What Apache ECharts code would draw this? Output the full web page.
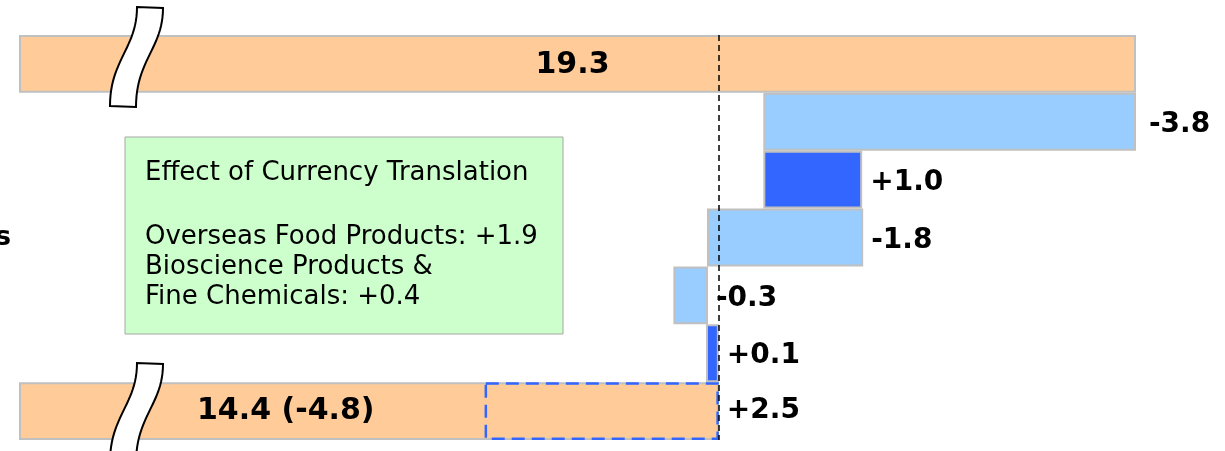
<!DOCTYPE html>
<html>
<head>
<meta charset="utf-8">
<script src="https://cdn.jsdelivr.net/npm/echarts@6/dist/echarts.min.js"></script>
<style>
  html, body { margin: 0; padding: 0; background: #fff; }
  #main { width: 1225px; height: 451px; }
</style>
</head>
<body>
<div id="main"></div>
<script>
// rows top to bottom; only the 4th row label peeks in at the left edge
const categories = ['', ' ', '  ', 'Food Products', '   ', '    ', '     '];
// bar extents on the (broken) value axis
const barLow  = [8, 15.53, 15.53, 14.96, 14.62, 14.95, 8];
const barHigh = [19.3, 19.3, 16.53, 16.54, 14.97, 15.08, 15.08];
const barLabels = ['19.3', '-3.8', '+1.0', '-1.8', '-0.3', '+0.1', '14.4 (-4.8)'];
// currency translation effect, dashed box on the last row
const fxLow  = [null, null, null, null, null, null, 12.71];
const fxHigh = [null, null, null, null, null, null, 15.08];
const fxLabels = ['', '', '', '', '', '', '+2.5'];
const refValue = 15.08;

const boxLines = [
    'Effect of Currency Translation',
    'Overseas Food Products: +1.9',
    'Bioscience Products &',
    'Fine Chemicals: +0.4'
];

var chartDom = document.getElementById('main');
var myChart = echarts.init(chartDom);

const ORANGE = '#ffcc99', LIGHT = '#99ccff', DARK = '#3366ff', EDGE = '#c0c0c0';
const last = barLow.length - 1;

let deltaData = barLow.map((lo, i) => {
    let color = ORANGE;
    if (i != 0 && i != last) {
        color = barLabels[i].charAt(0) == '+' ? DARK : LIGHT;
    }
    let label;
    if (i == 0) {
        label = { position: 'inside', offset: [-5, 1], fontSize: 30 };
    } else if (i == last) {
        label = { position: 'insideLeft', distance: 178, offset: [0, 0], fontSize: 30 };
    } else {
        label = { position: 'right', distance: i == 1 ? 13 : 8, offset: [0, 3], fontSize: 28 };
    }
    return {
        value: +(barHigh[i] - lo).toFixed(2),
        itemStyle: { color: color },
        label: label
    };
});

let fxData = fxLow.map((lo, i) => lo == null ? null : +(fxHigh[i] - lo).toFixed(2));

// axis-break squiggle: two cubic edges joined top and bottom
const cubic = (p0, p1, p2, p3, t) => {
    let u = 1 - t;
    return [
        u*u*u*p0[0] + 3*u*u*t*p1[0] + 3*u*t*t*p2[0] + t*t*t*p3[0],
        u*u*u*p0[1] + 3*u*u*t*p1[1] + 3*u*t*t*p2[1] + t*t*t*p3[1]
    ];
};
const breakPoints = (dy) => {
    let pts = [];
    let n = 24;
    for (let k = 0; k <= n; k++) {
        pts.push(cubic([163, 8 + dy], [163, 48 + dy], [136, 60 + dy], [136, 107 + dy], k / n));
    }
    for (let k = 0; k <= n; k++) {
        pts.push(cubic([110, 106 + dy], [110, 60 + dy], [137, 48 + dy], [137, 7 + dy], k / n));
    }
    return pts;
};

const boxY = [173, 237, 267, 297];

var option = {
    animation: false,
    grid: {
        left: 19, right: 89, top: 35, bottom: 11,
        containLabel: false,
        outerBoundsMode: 'none'
    },
    xAxis: {
        type: 'value',
        min: 8,
        max: 19.3,
        show: false,
        splitLine: { show: false }
    },
    yAxis: {
        type: 'category',
        data: categories,
        inverse: true,
        axisLine: { show: false },
        axisTick: { show: false },
        splitLine: { show: false },
        axisLabel: {
            margin: 8,
            color: '#000',
            fontFamily: 'DejaVu Sans',
            fontWeight: 'bold',
            fontSize: 27
        }
    },
    series: [
        {
            name: 'base',
            type: 'bar',
            stack: 'w',
            silent: true,
            barCategoryGap: '0%',
            barGap: '-100%',
            itemStyle: { color: 'transparent' },
            data: barLow
        },
        {
            name: 'delta',
            type: 'bar',
            stack: 'w',
            clip: false,
            barCategoryGap: '0%',
            barGap: '-100%',
            itemStyle: { borderColor: EDGE, borderWidth: 2 },
            label: {
                show: true,
                color: '#000',
                fontFamily: 'DejaVu Sans',
                fontWeight: 'bold',
                formatter: (p) => barLabels[p.dataIndex]
            },
            markLine: {
                silent: true,
                symbol: 'none',
                label: { show: false },
                lineStyle: { color: '#000', type: [6, 4], width: 1.5 },
                data: [{ xAxis: refValue }]
            },
            data: deltaData
        },
        {
            name: 'fxBase',
            type: 'bar',
            stack: 'fx',
            silent: true,
            barCategoryGap: '0%',
            barGap: '-100%',
            itemStyle: { color: 'transparent' },
            data: fxLow
        },
        {
            name: 'fx',
            type: 'bar',
            stack: 'fx',
            clip: false,
            barCategoryGap: '0%',
            barGap: '-100%',
            itemStyle: {
                color: 'transparent',
                borderColor: DARK,
                borderWidth: 2.5,
                borderType: [13, 7]
            },
            label: {
                show: true,
                position: 'right',
                distance: 8,
                color: '#000',
                fontFamily: 'DejaVu Sans',
                fontWeight: 'bold',
                fontSize: 28,
                formatter: (p) => fxLabels[p.dataIndex]
            },
            data: fxData
        }
    ],
    graphic: [
        {
            type: 'polygon', z: 100,
            shape: { points: breakPoints(0) },
            style: { fill: '#fff', stroke: '#000', lineWidth: 2 }
        },
        {
            type: 'polygon', z: 100,
            shape: { points: breakPoints(356) },
            style: { fill: '#fff', stroke: '#000', lineWidth: 2 }
        },
        {
            type: 'rect', z: 50,
            shape: { x: 125, y: 137, width: 438, height: 197 },
            style: { fill: '#ccffcc', stroke: '#a6a6a6', lineWidth: 1 }
        }
    ].concat(boxLines.map((t, i) => ({
        type: 'text', z: 51,
        x: 145, y: boxY[i],
        style: {
            text: t,
            font: '26px "DejaVu Sans"',
            fill: '#000',
            verticalAlign: 'middle'
        }
    })))
};

myChart.setOption(option);
</script>
</body>
</html>
